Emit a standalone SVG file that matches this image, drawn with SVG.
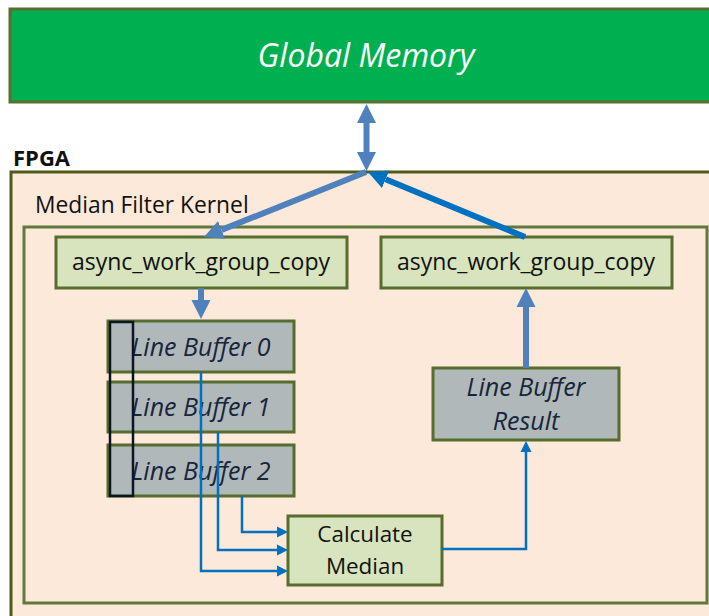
<svg xmlns="http://www.w3.org/2000/svg" width="709" height="616" viewBox="0 0 709 616">
<defs>
<style>
.txt{font-family:"Open Sans","Liberation Sans",sans-serif;}
.box{fill:#d7e4bd;stroke:#566d2e;stroke-width:3;}
.buf{fill:#b1b8ba;stroke:#566d2e;stroke-width:3;}
.lbl{font-size:23px;fill:#111;text-anchor:middle;}
.ital{font-size:25px;font-style:italic;fill:#17263a;text-anchor:middle;}
.thick{stroke-width:6;fill:none;}
.thin{stroke:#0070c0;stroke-width:2.5;fill:none;}
</style>
<marker id="hs" markerUnits="userSpaceOnUse" markerWidth="20" markerHeight="20" refX="0" refY="10" orient="auto-start-reverse"><path d="M0,0.5 L19,10 L0,19.5 z" fill="#4f81bd"/></marker>
<marker id="hb" markerUnits="userSpaceOnUse" markerWidth="20" markerHeight="20" refX="0" refY="10" orient="auto"><path d="M0,0.5 L19,10 L0,19.5 z" fill="#0070c0"/></marker>
<marker id="ht" markerUnits="userSpaceOnUse" markerWidth="12" markerHeight="12" refX="0" refY="6" orient="auto"><path d="M0,0.5 L11,6 L0,11.5 z" fill="#0070c0"/></marker>
</defs>
<rect width="709" height="616" fill="#ffffff"/>
<g id="global-memory">
<rect x="10" y="9" width="712" height="93" fill="#00b050" stroke="#5a6e30" stroke-width="3"/>
<text class="txt" x="366" y="67" font-size="32" font-style="italic" fill="#ffffff" text-anchor="middle">Global Memory</text>
</g>
<g id="fpga">
<text class="txt" x="13" y="166" font-size="22" font-weight="bold" fill="#111">FPGA</text>
<rect x="11" y="172" width="712" height="460" fill="#fde9d9" stroke="#4f5b1a" stroke-width="3"/>
</g>
<g id="kernel">
<rect x="24" y="227" width="683" height="376" fill="none" stroke="#5f7a3a" stroke-width="3"/>
<text class="txt" x="35" y="213" font-size="22.8" fill="#111">Median Filter Kernel</text>
</g>
<g id="copy-in">
<rect class="box" x="56" y="237" width="291" height="51"/>
<text class="txt lbl" x="201" y="270">async_work_group_copy</text>
</g>
<g id="copy-out">
<rect class="box" x="381" y="237" width="291" height="51"/>
<text class="txt lbl" x="526" y="270">async_work_group_copy</text>
</g>
<g id="line-buffer-0">
<rect class="buf" x="108" y="321" width="186" height="51"/>
<text class="txt ital" x="201" y="356">Line Buffer 0</text>
</g>
<g id="line-buffer-1">
<rect class="buf" x="108" y="382" width="186" height="50"/>
<text class="txt ital" x="201" y="416">Line Buffer 1</text>
</g>
<g id="line-buffer-2">
<rect class="buf" x="108" y="445" width="186" height="51"/>
<text class="txt ital" x="201" y="480">Line Buffer 2</text>
</g>
<g id="window">
<rect x="110" y="322" width="23" height="174" fill="none" stroke="#0b1622" stroke-width="2.5"/>
</g>
<g id="calc-median">
<rect class="box" x="288" y="516" width="154" height="69"/>
<text class="txt" x="365" y="542" font-size="22.4" fill="#111" text-anchor="middle">Calculate</text>
<text class="txt" x="365" y="574" font-size="22.4" fill="#111" text-anchor="middle">Median</text>
</g>
<g id="line-buffer-result">
<rect class="buf" x="433" y="368" width="186" height="72"/>
<text class="txt ital" x="526" y="396">Line Buffer</text>
<text class="txt ital" x="526" y="430">Result</text>
</g>
<g id="connectors">
<line class="thick" x1="366.5" y1="123" x2="366.5" y2="152" stroke="#4f81bd" marker-start="url(#hs)" marker-end="url(#hs)"/>
<line class="thick" x1="366" y1="172" x2="221.6" y2="229.9" stroke="#4f81bd" marker-end="url(#hs)"/>
<line class="thick" x1="525" y1="237" x2="385.6" y2="179.3" stroke="#0070c0" marker-end="url(#hb)"/>
<line class="thick" x1="201" y1="288" x2="201" y2="300" stroke="#4f81bd" marker-end="url(#hs)"/>
<line class="thick" x1="526" y1="368" x2="526" y2="307" stroke="#4f81bd" marker-end="url(#hs)"/>
<path class="thin" d="M201,372 V571 H277" marker-end="url(#ht)"/>
<path class="thin" d="M218,432 V550 H277" marker-end="url(#ht)"/>
<path class="thin" d="M242,496 V532 H277" marker-end="url(#ht)"/>
<path class="thin" d="M442,549 H526 V452" marker-end="url(#ht)"/>
</g>
</svg>
